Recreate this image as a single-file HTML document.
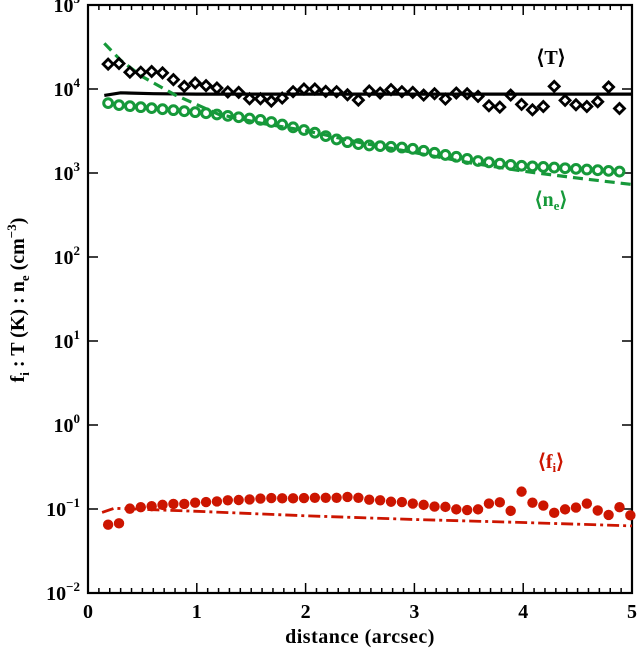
<!DOCTYPE html>
<html><head><meta charset="utf-8"><style>
body{margin:0;background:#fff;}
svg{display:block;font-family:"Liberation Serif",serif;font-weight:bold;}
</style></head><body>
<svg id="chart" width="638" height="651" viewBox="0 0 638 651"></svg>
<script>
// ---- data ----
const tX0 = 0.185, step = 0.1;
const tempPoints = [19770,20140,15850,15850,16140,15560,12940,10760,11800,10960,10280,9200,9120,7660,7660,7180,7800,9290,10000,10000,9370,9290,8550,7380,9460,8950,9820,9290,9120,8470,8790,7590,8950,8790,8170,6310,6080,8470,6550,5650,6190,10760,7310,6490,6190,7050,10570,5860];
const tempLineX = [0.15,0.3,0.6,1,2,3,4,5];
const tempLineY = [8400,9000,8800,8700,8700,8700,8700,8700];
const nePoints = [6790,6430,6250,6080,5920,5750,5600,5440,5300,5150,4970,4790,4610,4450,4290,4050,3770,3500,3250,3020,2750,2510,2330,2210,2130,2090,2050,2010,1940,1840,1740,1640,1560,1470,1390,1340,1290,1250,1220,1200,1180,1160,1140,1120,1100,1080,1060,1040];
const neLineX = [0.15,0.3,0.5,0.8,1.2,1.6,2,2.5,3,3.5,4,4.5,5];
const neLineY = [35000,22000,14000,8500,5000,3900,3200,2300,1750,1330,1050,870,730];
const fiPoints = [0.065,0.0675,0.101,0.105,0.108,0.112,0.115,0.115,0.119,0.121,0.123,0.127,0.128,0.130,0.133,0.135,0.134,0.134,0.135,0.136,0.136,0.136,0.139,0.136,0.129,0.127,0.122,0.121,0.116,0.112,0.107,0.106,0.099,0.097,0.099,0.116,0.120,0.095,0.161,0.119,0.110,0.090,0.099,0.104,0.116,0.096,0.085,0.105,0.084];
const fiLineX = [0.13,0.24,1,2,3,4,5];
const fiLineY = [0.091,0.102,0.094,0.083,0.075,0.069,0.063];
const xTicks = [0,1,2,3,4,5];
const yTickExp = [5,4,3,2,1,0,-1,-2];

// ---- axes ----
const L=88,R=632,T=5,B=593;
const X = v => L + (v-0)/(5-0)*(R-L);
const Y = v => T + (5-Math.log10(v))/7*(B-T);
const svg = document.getElementById('chart');
const NS='http://www.w3.org/2000/svg';
function mk(tag, attrs, parent){const e=document.createElementNS(NS,tag);for(const k in attrs)e.setAttribute(k,attrs[k]);(parent||svg).appendChild(e);return e;}

const GREEN='#16993a', RED='#cc1500';

const ax = mk('g',{});


for(let i=0;i<=50;i++){
  const v=i/10, len=(i%10===0)?10:5, x=X(v);
  mk('line',{x1:x,y1:B,x2:x,y2:B-len,stroke:'#000','stroke-width':1.5},ax);
  mk('line',{x1:x,y1:T,x2:x,y2:T+len,stroke:'#000','stroke-width':1.5},ax);
}
yTickExp.forEach(e=>{
  const y=Y(Math.pow(10,e));
  mk('line',{x1:L,y1:y,x2:L+10,y2:y,stroke:'#000','stroke-width':1.5},ax);
  mk('line',{x1:R,y1:y,x2:R-10,y2:y,stroke:'#000','stroke-width':1.5},ax);
  const t=mk('text',{x:L-8,y:y+7,'text-anchor':'end','font-size':20},ax);
  
  
  t.innerHTML='10<tspan dy="-9" font-size="13">'+(e<0?'−'+(-e):e)+'</tspan>';
});
xTicks.forEach(v=>{
  const t=mk('text',{x:X(v),y:618,'text-anchor':'middle','font-size':20},ax);
  
  
  t.textContent=v;
});
const frame=mk('rect',{x:L,y:T,width:R-L,height:B-T,fill:'none',stroke:'#000','stroke-width':2.2});



const xt=mk('text',{x:(L+R)/2,y:643,'text-anchor':'middle','font-size':20,'letter-spacing':'0.5'});


xt.textContent='distance (arcsec)';
const yt=mk('text',{x:0,y:0,'text-anchor':'middle','font-size':20,transform:'translate(24,300) rotate(-90)'});


yt.innerHTML='f<tspan dy="5" font-size="13">i</tspan><tspan dy="-5"> : T (K) : n</tspan><tspan dy="5" font-size="13">e</tspan><tspan dy="-5"> (cm</tspan><tspan dy="-8" font-size="13">−3</tspan><tspan dy="8">)</tspan>';

function line(xs,ys,attrs,name){
  const d=xs.map((x,i)=>(i?'L':'M')+X(x).toFixed(1)+','+Y(ys[i]).toFixed(1)).join(' ');
  const p=mk('path',Object.assign({d:d,fill:'none'},attrs));
  
  
}
line(tempLineX,tempLineY,{stroke:'#000','stroke-width':3.2},'temperature-model-line');
line(neLineX,neLineY,{stroke:GREEN,'stroke-width':3.2,'stroke-dasharray':'10,6'},'density-model-line');
line(fiLineX,fiLineY,{stroke:RED,'stroke-width':2.8,'stroke-dasharray':'12,4,3,4'},'ion-fraction-model-line');

nePoints.forEach((v,i)=>{
  const c=mk('circle',{cx:X(tX0+i*step),cy:Y(v),r:4.4,fill:'none',stroke:GREEN,'stroke-width':3});
  
  
});
tempPoints.forEach((v,i)=>{
  const x=X(tX0+i*step), y=Y(v), s=5;
  const p=mk('path',{d:`M${x},${y-s} L${x+s},${y} L${x},${y+s} L${x-s},${y} Z`,fill:'none',stroke:'#000','stroke-width':2.8});
  
  
});
fiPoints.forEach((v,i)=>{
  const c=mk('circle',{cx:X(tX0+i*step),cy:Y(v),r:5.2,fill:RED});
  
  
});

function label(x,y,html,color,name){
  const t=mk('text',{x:x,y:y,'text-anchor':'middle','font-size':20,fill:color});
  
  
  t.innerHTML=html;
}
label(551,64,'⟨T⟩','#000','temperature-label');
label(551,206,'⟨n<tspan dy="4" font-size="13">e</tspan><tspan dy="-4">⟩</tspan>',GREEN,'density-label');
label(551,468,'⟨f<tspan dy="4" font-size="13">i</tspan><tspan dy="-4">⟩</tspan>',RED,'ion-fraction-label');
</script>
</body></html>
